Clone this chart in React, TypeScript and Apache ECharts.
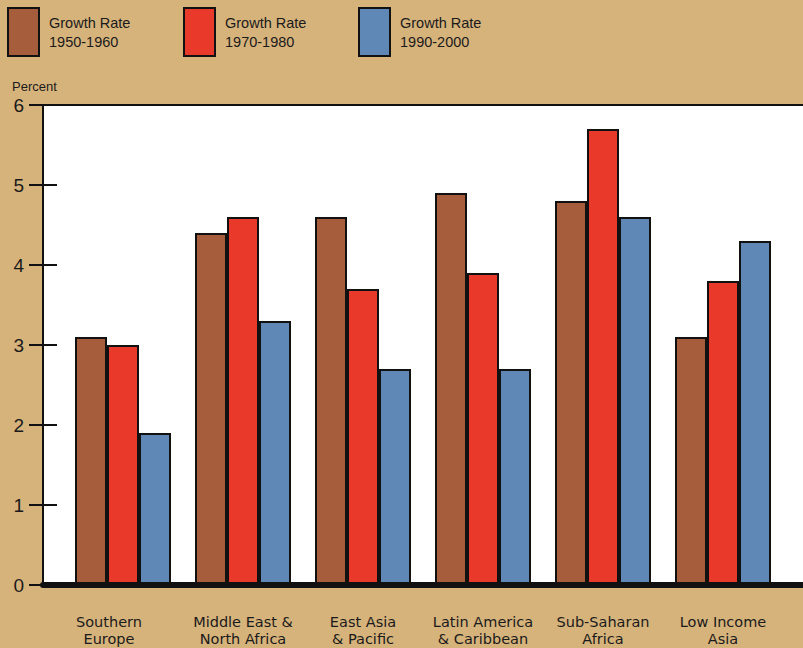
import React, { useEffect, useRef } from "react";
import * as echarts from "echarts";

const categories = [
  "Southern\nEurope",
  "Middle East &\nNorth Africa",
  "East Asia\n& Pacific",
  "Latin America\n& Caribbean",
  "Sub-Saharan\nAfrica",
  "Low Income\nAsia",
];
const seriesNames = ["Growth Rate\n1950-1960", "Growth Rate\n1970-1980", "Growth Rate\n1990-2000"];
const growth1950 = [3.1, 4.4, 4.6, 4.9, 4.8, 3.1];
const growth1970 = [3.0, 4.6, 3.7, 3.9, 5.7, 3.8];
const growth1990 = [1.9, 3.3, 2.7, 2.7, 4.6, 4.3];
const yMin = 0;
const yMax = 6;
const yInterval = 1;

const colors = ["#a55d3b", "#e8392a", "#5f88b6"];
const BG = "#d7b37c";
const INK = "#1a1a1a";

export default function App() {
  const ref = useRef<HTMLDivElement>(null);
  useEffect(() => {
    if (!ref.current) return;
    const chart = echarts.init(ref.current, null, { renderer: "svg" });
    const values = [growth1950, growth1970, growth1990];
    const legendLefts = [7, 183, 358];
    const option: any = {
      animation: false,
      backgroundColor: BG,
      title: {
        text: "Percent",
        left: 7,
        top: 75,
        textStyle: { fontFamily: "Liberation Sans", fontSize: 13, fontWeight: "normal", color: INK },
      },
      legend: seriesNames.map((n, i) => ({
        data: [n],
        left: legendLefts[i],
        top: 7,
        padding: 0,
        itemWidth: 31,
        itemHeight: 48,
        icon: "rect",
        selectedMode: false,
        itemStyle: { borderColor: "#111", borderWidth: 2 },
        textStyle: {
          fontFamily: "Liberation Sans",
          fontSize: 14.5,
          lineHeight: 19,
          color: INK,
          padding: [0, 0, 0, 5],
        },
      })),
      grid: [
        { left: 43, right: 0, top: 105, height: 480, show: true, backgroundColor: "#ffffff", borderWidth: 0 },
        { left: 63, right: 20, top: 105, height: 480 },
      ],
      xAxis: [
        {
          gridIndex: 0, type: "value", min: 0, max: 1, position: "bottom", z: 10,
          axisLine: { show: true, onZero: false, lineStyle: { color: "#111", width: 6 } },
          axisTick: { show: false }, axisLabel: { show: false }, splitLine: { show: false },
        },
        {
          gridIndex: 0, type: "value", min: 0, max: 1, position: "top", z: 10,
          axisLine: { show: true, onZero: false, lineStyle: { color: "#111", width: 2 } },
          axisTick: { show: false }, axisLabel: { show: false }, splitLine: { show: false },
        },
        {
          gridIndex: 1, type: "category", data: categories,
          axisLine: { show: false }, axisTick: { show: false },
          axisLabel: {
            margin: 28,
            interval: 0,
            color: INK,
            fontFamily: "DejaVu Sans",
            fontSize: 14.5,
            lineHeight: 17,
            formatter: (v: string, idx: number) =>
              v.split("\n").map((s) => (idx === 0 ? `{f|${s}}` : `{n|${s}}`)).join("\n"),
            rich: {
              n: { fontFamily: "DejaVu Sans", fontSize: 14.5, lineHeight: 17, color: INK },
              f: { fontFamily: "DejaVu Sans", fontSize: 14.5, lineHeight: 17, color: INK, padding: [0, 28, 0, 0] },
            },
          },
        },
      ],
      yAxis: [
        {
          gridIndex: 0, type: "value", min: yMin, max: yMax, interval: yInterval, position: "left", z: 10,
          axisLine: { show: true, lineStyle: { color: "#111", width: 2 } },
          axisTick: { show: true, inside: true, length: 14, lineStyle: { color: "#111", width: 2 } },
          axisLabel: { margin: 19, color: INK, fontFamily: "Liberation Sans", fontSize: 19 },
          splitLine: { show: false },
        },
        {
          gridIndex: 0, type: "value", min: yMin, max: yMax, interval: yInterval, position: "right", z: 10,
          axisLine: { show: false },
          axisTick: { show: true, inside: true, length: 14, lineStyle: { color: "#111", width: 2 } },
          axisLabel: { show: false },
          splitLine: { show: false },
        },
        {
          gridIndex: 1, type: "value", min: yMin, max: yMax, interval: yInterval, show: false,
        },
      ],
      series: seriesNames.map((n, i) => ({
        name: n,
        type: "bar",
        xAxisIndex: 2,
        yAxisIndex: 2,
        data: values[i],
        barWidth: 32,
        barGap: "0%",
        itemStyle: { color: colors[i], borderColor: "#111", borderWidth: 2 },
      })),
    };
    chart.setOption(option);
    return () => chart.dispose();
  }, []);
  return (
    <div
      ref={ref}
      style={{ position: "absolute", left: 0, top: 0, width: 803, height: 648, background: BG }}
    />
  );
}
